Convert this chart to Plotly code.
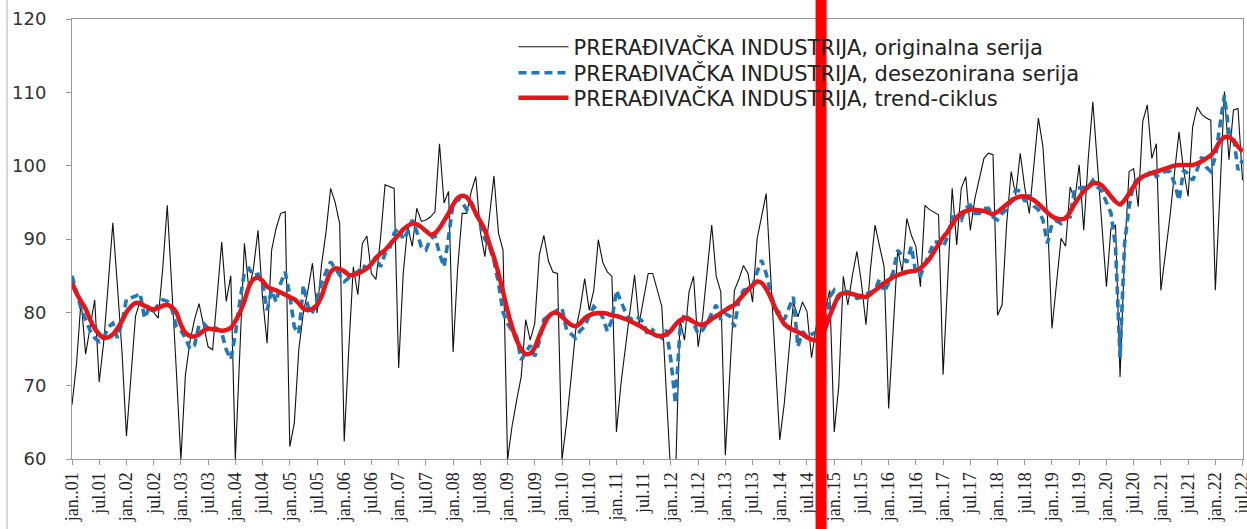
import plotly.graph_objects as go

# ---- data (monthly, jan.2001 .. jul.2022) ----
years = list(range(2001, 2023))

original = [
    67.4, 73.0, 81.7, 74.3, 78.0, 81.7, 70.5, 76.0, 84.0, 92.2, 83.7, 74.8,
    63.1, 71.0, 79.5, 81.5, 81.0, 80.3, 80.0, 79.2, 86.0, 94.6, 84.0, 72.0,
    59.9, 71.5, 76.0, 79.0, 81.2, 78.0, 75.3, 74.9, 82.0, 89.6, 81.5, 85.0,
    60.0, 76.0, 89.4, 83.0, 86.0, 91.2, 82.0, 75.8, 88.5, 91.5, 93.5, 93.7,
    61.7, 64.9, 75.0, 80.0, 83.0, 86.7, 79.9, 86.5, 91.0, 96.9, 95.0, 92.1,
    62.4, 74.9, 86.2, 82.4, 89.4, 90.4, 85.3, 84.5, 90.1, 97.4, 97.2, 96.9,
    72.4, 85.3, 91.7, 89.0, 94.2, 92.4, 92.6, 93.0, 93.7, 103.0, 94.9, 96.5,
    74.6, 86.0, 93.5, 93.5, 96.5, 98.5, 91.0, 87.6, 93.0, 98.6, 90.8, 88.5,
    59.9, 64.5, 68.0, 71.2, 79.0, 76.2, 78.5, 87.8, 90.5, 87.0, 85.5, 85.3,
    59.9, 64.9, 71.0, 77.5, 80.5, 84.6, 80.3, 83.0, 89.9, 86.8, 85.5, 84.9,
    63.7, 70.3, 75.3, 80.0, 85.1, 78.5, 82.0, 85.3, 85.3, 83.0, 80.8, 69.0,
    57.5, 57.0, 79.0, 76.2, 82.8, 84.9, 75.3, 79.4, 86.0, 91.9, 84.9, 82.8,
    60.5, 72.0, 83.0, 84.5, 86.4, 85.3, 81.4, 90.0, 93.0, 96.2, 84.9, 74.0,
    62.6, 67.6, 75.0, 81.4, 79.4, 81.4, 80.1, 73.8, 78.0, 80.0, 80.3, 83.0,
    63.7, 69.9, 84.9, 81.0, 85.0, 88.3, 84.0, 78.3, 86.0, 91.9, 89.0, 86.2,
    66.9, 78.0, 88.5, 85.5, 92.8, 90.5, 89.0, 83.5, 94.6, 94.0, 93.6, 93.3,
    71.5, 84.0, 96.9, 89.2, 96.9, 98.5, 91.2, 95.5, 98.5, 101.0, 101.7, 101.5,
    79.6, 81.0, 92.0, 99.2, 96.0, 101.7, 97.0, 93.5, 100.0, 106.5, 102.6, 93.0,
    77.8, 84.0, 90.1, 89.0, 97.1, 95.3, 100.1, 91.2, 101.0, 108.7, 100.0, 92.0,
    83.5, 91.5, 91.9, 71.2, 88.0, 99.2, 99.6, 94.4, 106.0, 108.3, 101.0, 103.0,
    83.0, 88.0, 93.0, 99.0, 104.6, 99.4, 95.8, 105.3, 108.0, 107.0, 106.5, 106.2,
    83.0, 96.0, 110.1, 100.8, 107.6, 107.8, 98.0,
]

seasonally_adjusted = [
    85.0, 82.5, 80.5, 79.0, 77.5, 76.5, 76.0, 76.5, 78.0, 78.5, 76.5, 78.5,
    81.8, 82.0, 82.2, 82.6, 79.2, 80.6, 80.2, 81.0, 81.7, 81.5, 80.5, 78.0,
    77.5, 76.5, 75.0, 75.5, 78.3, 78.5, 77.8, 78.0, 77.8, 77.2, 74.9, 73.6,
    77.0, 81.5, 85.5, 86.0, 85.0, 85.2, 84.0, 80.3, 83.0, 81.4, 84.0, 85.5,
    82.3, 78.0, 77.1, 83.7, 80.8, 79.9, 82.0, 84.0, 85.5, 86.9, 86.0, 85.0,
    84.2, 84.7, 85.3, 85.5, 86.4, 86.0, 86.6, 87.6, 86.2, 88.0, 88.7, 90.8,
    91.5, 89.9, 91.0, 92.6, 91.0, 88.9, 88.5, 90.0, 90.5, 88.0, 86.2, 90.3,
    94.9, 95.5, 95.0, 94.0, 95.1, 93.5, 92.0, 90.0, 89.0, 87.0, 84.0, 80.0,
    78.5, 77.5, 76.7, 73.5, 74.5, 75.5, 74.0, 76.0, 79.0, 79.5, 79.9, 80.3,
    80.6, 77.6, 77.0, 76.5, 77.5, 78.1, 79.5, 80.8, 80.2, 79.3, 77.4, 79.0,
    83.0, 81.5, 80.0, 79.0, 79.5, 79.2, 78.6, 76.7, 77.6, 77.0, 76.5, 77.6,
    73.5, 67.6, 77.6, 79.9, 79.0, 78.5, 77.1, 77.6, 78.5, 79.9, 81.0, 79.0,
    79.8, 79.5, 78.0, 81.7, 83.0, 83.2, 83.5, 85.5, 87.1, 85.3, 82.6, 80.5,
    79.9, 79.0, 80.5, 82.1, 75.3, 77.4, 76.7, 77.0, 77.3, 76.9, 77.5, 82.1,
    83.0, 82.0, 83.0, 82.8, 82.5, 81.9, 82.0, 82.5, 82.8, 83.0, 84.6, 82.8,
    84.0, 85.5, 88.5, 87.6, 86.8, 89.0, 85.3, 85.0, 86.5, 88.0, 89.6, 89.6,
    88.9, 90.3, 93.0, 93.0, 92.6, 94.2, 94.6, 93.5, 93.5, 94.2, 94.2, 93.0,
    92.6, 93.5, 94.0, 95.1, 96.7, 96.5, 95.1, 96.0, 94.5, 94.0, 92.6, 89.4,
    92.1, 92.5, 92.1, 93.0, 93.0, 96.9, 97.0, 97.1, 97.1, 98.0, 97.1, 96.5,
    94.9, 93.5, 89.0, 73.8, 89.4, 94.4, 97.6, 98.2, 98.5, 98.7, 99.4, 98.5,
    99.0, 99.2, 99.2, 97.6, 95.3, 99.4, 98.9, 98.0, 99.5, 101.2, 99.8, 99.2,
    101.2, 105.3, 109.6, 104.6, 104.0, 99.4, 100.8,
]

trend_cycle = [
    84.0, 82.6, 81.5, 80.5, 79.0, 77.8, 77.0, 76.5, 76.6, 77.0, 77.8, 78.8,
    80.0, 80.8, 81.3, 81.2, 80.9, 80.6, 80.4, 80.6, 80.9, 81.0, 80.7, 80.0,
    78.3, 77.2, 76.8, 76.7, 77.0, 77.5, 77.8, 77.7, 77.6, 77.5, 77.6, 77.9,
    78.8, 80.0, 81.5, 83.5, 84.5, 84.7, 84.3, 83.5, 83.2, 83.0, 82.7, 82.4,
    82.1, 81.8, 81.2, 80.5, 80.3, 80.5, 81.0, 82.2, 84.0, 85.5, 86.0, 85.9,
    85.6, 85.1, 85.1, 85.3, 85.6, 86.0, 86.6, 87.4, 88.0, 88.5, 89.2, 89.9,
    90.6, 91.3, 91.8, 92.1, 92.0, 91.6, 91.1, 90.6, 90.8, 91.5, 92.5, 93.5,
    94.7, 95.6, 95.9, 95.7, 94.8, 93.5, 92.4, 91.2, 89.3, 87.5, 85.3, 82.8,
    80.2, 78.0, 76.2, 75.0, 74.3, 74.4, 75.2, 76.8, 78.2, 79.4, 79.9, 79.9,
    79.4, 78.8, 78.3, 78.1, 78.5, 79.2, 79.6, 79.8, 79.9, 79.9, 79.8, 79.6,
    79.5, 79.3, 79.1, 78.8, 78.5, 78.2, 77.8, 77.4, 77.1, 76.8, 76.8, 77.0,
    77.5, 78.3, 78.9, 79.2, 79.1, 78.7, 78.4, 78.3, 78.6, 79.1, 79.5, 79.9,
    80.3, 80.7, 81.0, 81.7, 82.4, 83.1, 83.7, 84.2, 84.0, 83.2, 82.0, 80.6,
    79.4, 78.4, 77.9, 77.6, 77.3, 77.0, 76.6, 76.3, 76.2, 76.6, 77.8, 79.5,
    81.0, 82.3, 82.6, 82.6, 82.5, 82.3, 82.2, 82.1, 82.5, 83.0, 83.5, 84.0,
    84.4, 84.8, 85.1, 85.3, 85.5, 85.6, 85.7, 86.0, 86.6, 87.3, 88.3, 89.3,
    90.2, 91.0, 92.0, 92.9, 93.5, 93.8, 94.0, 94.0, 93.9, 93.8, 93.6, 93.4,
    93.7, 94.2, 94.7, 95.2, 95.6, 95.8, 95.8, 95.6, 95.3, 94.8, 94.2, 93.6,
    93.1, 92.8, 92.7, 92.8, 93.7, 94.8, 95.7, 96.5, 97.1, 97.6, 97.6, 97.3,
    96.6, 95.8, 95.1, 94.7, 95.3, 96.2, 97.2, 98.0, 98.5, 98.8, 99.0, 99.2,
    99.4, 99.6, 99.8, 100.0, 100.1, 100.1, 100.1, 100.1, 100.3, 100.6, 101.0, 101.4,
    102.2, 103.3, 103.9, 103.9, 103.4, 102.6, 101.9,
]

series_names = [
    "PRERAĐIVAČKA INDUSTRIJA, originalna serija",
    "PRERAĐIVAČKA INDUSTRIJA, desezonirana serija",
    "PRERAĐIVAČKA INDUSTRIJA, trend-ciklus",
]

break_month = 165.1  # position of the red vertical marker (month index)

# ---- derived ----
months = list(range(len(original)))
tick_vals = []
tick_text = []
for i, y in enumerate(years):
    yy = y % 100
    tick_vals.append(12 * i)
    tick_text.append(f"jan..{yy:02d}")
    if 12 * i + 6 < len(original):
        tick_vals.append(12 * i + 6)
        tick_text.append(f"jul.{yy:02d}")

x_min, x_max = 0, len(original) - 1 + 0.1

fig = go.Figure()
fig.add_trace(go.Scatter(
    x=months, y=original, name=series_names[0], mode="lines",
    line=dict(color="#111111", width=1.1), legend="legend",
))
fig.add_trace(go.Scatter(
    x=months, y=seasonally_adjusted, name=series_names[1], mode="lines",
    line=dict(color="#2277b8", width=3.6, dash="8px,5px"), legend="legend2",
))
fig.add_trace(go.Scatter(
    x=months, y=trend_cycle, name=series_names[2], mode="lines",
    line=dict(color="#e3161b", width=4.5, shape="spline", smoothing=0.6),
    legend="legend3",
))

bx = (break_month - x_min) / (x_max - x_min)
fig.add_shape(type="line", xref="paper", yref="paper",
              x0=bx, x1=bx, y0=-0.2, y1=1.1,
              line=dict(color="#ff0000", width=11), layer="above")
# outer chart-area border (left edge)
fig.add_shape(type="line", xref="paper", yref="paper",
              x0=-0.0555, x1=-0.0555, y0=-0.2, y1=1.1,
              line=dict(color="#b0b0b0", width=1), layer="above")

legend_style = dict(
    x=0.377, xanchor="left", yanchor="middle",
    bgcolor="rgba(255,255,255,0)",
    font=dict(family="DejaVu Sans", size=21, color="#222222"),
    itemwidth=50,
)

fig.update_layout(
    width=1247, height=529,
    margin=dict(l=72, r=4, t=19, b=70),
    paper_bgcolor="white", plot_bgcolor="white",
    showlegend=True,
    legend=dict(legend_style, y=0.936),
    legend2=dict(legend_style, y=0.877),
    legend3=dict(legend_style, y=0.820),
)
fig.update_xaxes(
    range=[x_min, x_max],
    tickmode="array", tickvals=tick_vals, ticktext=tick_text,
    tickangle=-90, ticklabeloverflow="allow",
    tickfont=dict(family="Liberation Sans Narrow", size=18, color="#222222"),
    ticks="outside", ticklen=5, tickcolor="#999999",
    showline=True, linecolor="#999999", linewidth=1, mirror=True,
    showgrid=False, zeroline=False, automargin=False,
)
fig.update_yaxes(
    range=[60, 120], tickmode="array", tickvals=[60, 70, 80, 90, 100, 110, 120],
    tickfont=dict(family="DejaVu Sans", size=18, color="#333333"),
    ticks="outside", ticklen=5, tickcolor="#999999", ticklabelstandoff=16,
    showline=True, linecolor="#999999", linewidth=1, mirror=True,
    showgrid=False, zeroline=False, automargin=False,
)

fig.write_html("out.html", config={"displayModeBar": False},
               post_script="document.body.style.margin='0';")
